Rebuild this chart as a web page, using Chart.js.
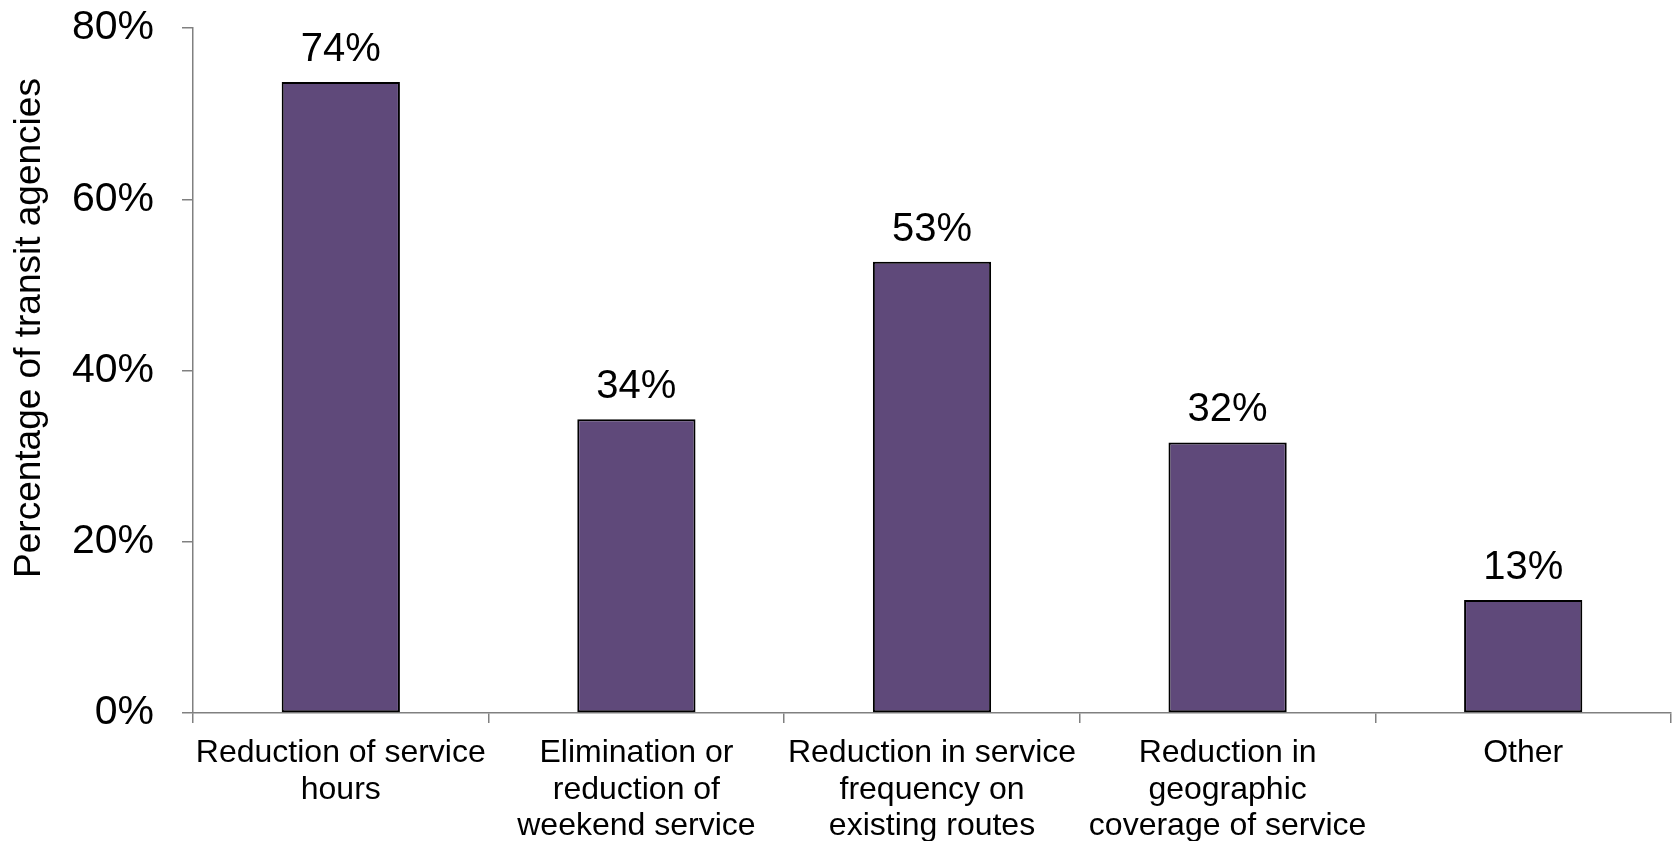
<!DOCTYPE html>
<html>
<head>
<meta charset="utf-8">
<script src="https://cdn.jsdelivr.net/npm/chart.js@4/dist/chart.umd.min.js"></script>
<style>
  html, body { margin: 0; padding: 0; background: #fff; }
  #wrap { width: 1674px; height: 841px; }
</style>
</head>
<body>
<div id="wrap"><canvas id="cutsChart" width="1674" height="841"></canvas></div>
<script>
// Categories (multi-line labels) and values
const categories = [
  ['Reduction of service', 'hours'],
  ['Elimination or', 'reduction of', 'weekend service'],
  ['Reduction in service', 'frequency on', 'existing routes'],
  ['Reduction in', 'geographic', 'coverage of service'],
  'Other'
];
const shares = [73.7, 34.3, 52.7, 31.6, 13.2];
const yTicks = [0, 20, 40, 60, 80];
const yTitle = 'Percentage of transit agencies';

const FONT = '"Liberation Sans", Arial, sans-serif';
const AXIS_GREY = '#808080';

// value labels above each bar
const barLabels = {
  id: 'barLabels',
  afterDatasetsDraw(chart) {
    const ctx = chart.ctx;
    const meta = chart.getDatasetMeta(0);
    ctx.save();
    ctx.font = '40px ' + FONT;
    ctx.fillStyle = '#000';
    ctx.textAlign = 'center';
    ctx.textBaseline = 'alphabetic';
    meta.data.forEach((bar, i) => {
      ctx.fillText(Math.round(shares[i]) + '%', bar.x, bar.y - 21);
    });
    ctx.restore();
  }
};

// y axis title sits a bit above the middle of the axis in the original
const yTitlePlugin = {
  id: 'yTitlePlugin',
  afterDraw(chart) {
    const ctx = chart.ctx;
    ctx.save();
    ctx.translate(30, 328);
    ctx.rotate(-Math.PI / 2);
    ctx.font = '37px ' + FONT;
    ctx.fillStyle = '#000';
    ctx.textAlign = 'center';
    ctx.textBaseline = 'middle';
    ctx.fillText(yTitle, 0, 0);
    ctx.restore();
  }
};

new Chart(document.getElementById('cutsChart').getContext('2d'), {
  type: 'bar',
  data: {
    labels: categories,
    datasets: [{
      data: shares,
      backgroundColor: '#5F497A',
      borderColor: '#000',
      borderWidth: 2,
      borderSkipped: false,
      categoryPercentage: 1,
      barPercentage: 0.4
    }]
  },
  options: {
    responsive: false,
    animation: false,
    layout: { padding: { top: 28, right: 3, bottom: 0, left: 0 } },
    plugins: {
      legend: { display: false },
      tooltip: { enabled: false }
    },
    scales: {
      x: {
        grid: {
          display: true,
          offset: true,
          drawOnChartArea: false,
          drawTicks: true,
          tickLength: 10,
          color: AXIS_GREY,
          lineWidth: 1.5
        },
        border: { display: true, color: AXIS_GREY, width: 1.5 },
        ticks: {
          color: '#000',
          padding: 12,
          maxRotation: 0,
          autoSkip: false,
          font: { family: FONT, size: 32, lineHeight: 1.14 }
        },
        afterFit(scale) {
          scale.height = 128;
          scale.paddingLeft = 0;
          scale.paddingRight = 0;
        }
      },
      y: {
        min: 0,
        max: 80,
        afterBuildTicks(scale) { scale.ticks = yTicks.map(v => ({ value: v })); },
        grid: {
          display: true,
          drawOnChartArea: false,
          drawTicks: true,
          tickLength: 11,
          color: AXIS_GREY,
          lineWidth: 1.5
        },
        border: { display: true, color: AXIS_GREY, width: 1.5 },
        ticks: {
          color: '#000',
          padding: 28,
          font: { family: FONT, size: 41 },
          callback: v => v + '%'
        },
        afterFit(scale) {
          scale.width = 193;
          scale.paddingTop = 0;
          scale.paddingBottom = 0;
        }
      }
    }
  },
  plugins: [barLabels, yTitlePlugin]
});
</script>
</body>
</html>
